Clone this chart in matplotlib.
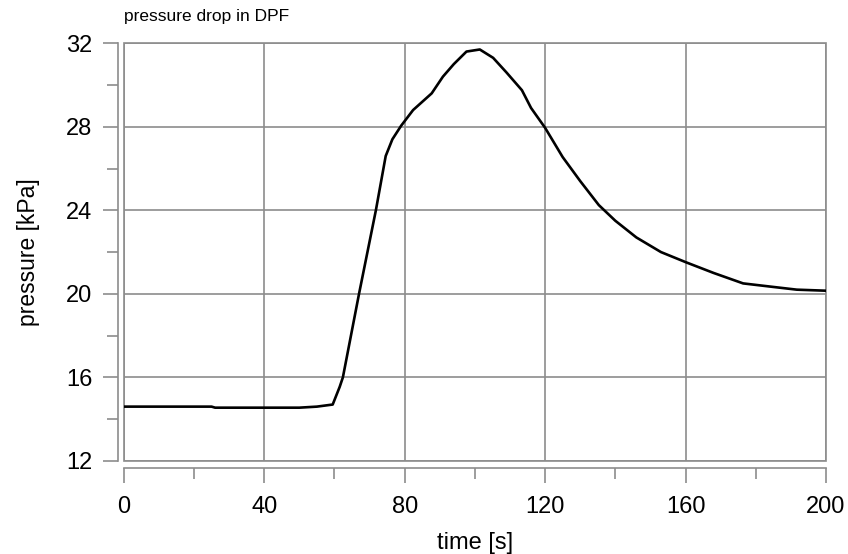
import numpy as np
import matplotlib
matplotlib.use('Agg')
import matplotlib.pyplot as plt
from matplotlib.patches import Rectangle
from matplotlib.ticker import MultipleLocator

# pressure drop curve
time_s = [0, 25, 26, 50, 55, 59.5, 61.5, 62.4, 67, 71.8, 74.6, 76.5, 79, 82.4,
          87.7, 90.9, 94, 97.6, 101.4, 105.2, 109, 113.4, 116, 120, 125, 130,
          135.3, 140, 146, 153, 160.3, 168, 176.4, 184, 191.7, 200]
pressure_kpa = [14.6, 14.6, 14.55, 14.55, 14.6, 14.7, 15.55, 16.0, 20.0, 24.0,
                26.6, 27.4, 28.05, 28.8, 29.6, 30.4, 31.0, 31.6, 31.7, 31.3,
                30.6, 29.75, 28.9, 27.95, 26.55, 25.4, 24.25, 23.5, 22.7, 22.0,
                21.5, 21.0, 20.5, 20.35, 20.2, 20.15]
xticks = [0, 40, 80, 120, 160, 200]
yticks = [12, 16, 20, 24, 28, 32]

plt.rcParams['font.family'] = ['Liberation Sans', 'DejaVu Sans']
gray = '#8c8c8c'

fig = plt.figure(figsize=(8.48, 5.54), dpi=100)
ax = fig.add_axes([0.146, 0.168, 0.828, 0.754])

ax.plot(time_s, pressure_kpa, color='black', lw=1.9, zorder=3)

ax.set_xlim(0, 200)
ax.set_ylim(12, 32)
ax.set_xticks(xticks)
ax.set_yticks(yticks)
ax.xaxis.set_minor_locator(MultipleLocator(20))
ax.yaxis.set_minor_locator(MultipleLocator(2))
ax.grid(True, which='major', color=gray, lw=1.2)

for s in ['top', 'right']:
    ax.spines[s].set_visible(False)
ax.spines['left'].set_position(('outward', 4))
ax.spines['bottom'].set_position(('outward', 5))
for s in ['left', 'bottom']:
    ax.spines[s].set_color(gray)
    ax.spines[s].set_linewidth(1.2)
ax.add_patch(Rectangle((0, 0), 1, 1, transform=ax.transAxes, fill=False,
                       edgecolor=gray, lw=1.2, clip_on=False, zorder=2))

ax.tick_params(which='major', length=10.5, width=1.2, color=gray,
               labelsize=17, pad=8)
ax.tick_params(which='minor', length=8, width=1.2, color=gray)
ax.tick_params(axis='x', pad=10)

ax.set_xlabel('time [s]', fontsize=17, labelpad=10)
ax.set_ylabel('pressure [kPa]', fontsize=16.5, labelpad=19)
ax.text(0, 1.045, 'pressure drop in DPF', transform=ax.transAxes,
        fontsize=12.5, ha='left', va='bottom')

fig.savefig('out.png', dpi=100)
